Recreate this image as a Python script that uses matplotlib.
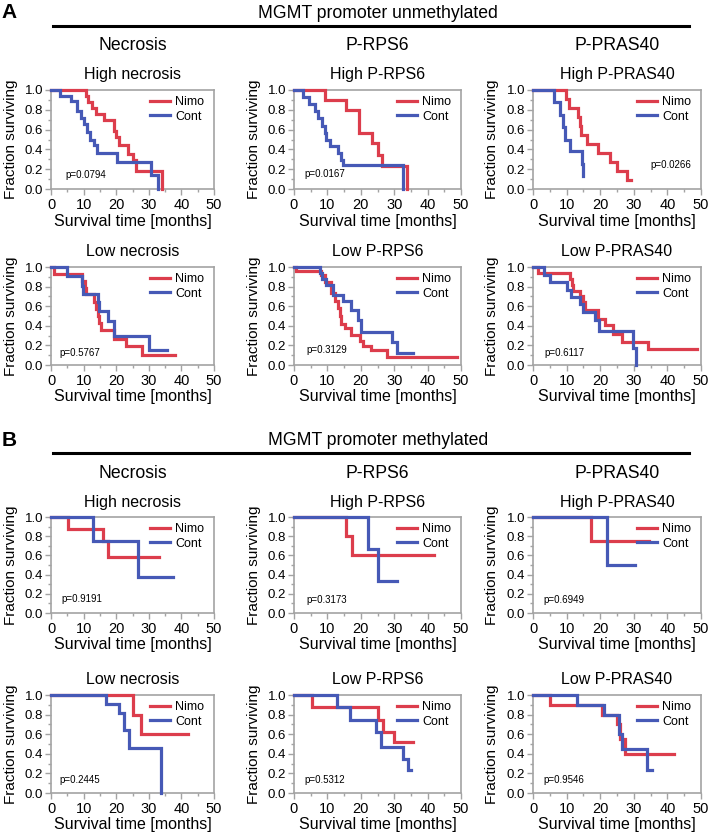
import matplotlib
matplotlib.use("Agg")
import matplotlib.pyplot as plt
from matplotlib.lines import Line2D
from matplotlib.ticker import MultipleLocator, FormatStrFormatter

plt.rcParams['font.family'] = ['Liberation Sans', 'DejaVu Sans']

# ---------------- DATA (times: event times + final follow-up time; surv: survival after each event)
# A: MGMT promoter unmethylated
a_hn_nimo_t = [10.6, 11.3, 12.6, 13.9, 16.3, 19.4, 19.8, 21.0, 23.5, 25.2, 26.2, 34.0, 34.0]
a_hn_nimo_s = [0.94, 0.88, 0.82, 0.76, 0.70, 0.59, 0.53, 0.44, 0.35, 0.29, 0.18, 0.0]
a_hn_cont_t = [2.8, 6.1, 7.9, 9.1, 10.1, 11.1, 12.1, 13.1, 14.1, 20.2, 30.8, 32.8, 32.8]
a_hn_cont_s = [0.94, 0.89, 0.79, 0.72, 0.66, 0.58, 0.50, 0.44, 0.36, 0.27, 0.14, 0.0]

a_hr_nimo_t = [9.4, 15.7, 19.4, 23.4, 25.2, 26.2, 33.7, 33.7]
a_hr_nimo_s = [0.90, 0.80, 0.57, 0.46, 0.34, 0.23, 0.0]
a_hr_cont_t = [2.7, 4.4, 6.2, 7.2, 8.4, 9.2, 9.7, 10.7, 13.2, 14.2, 14.7, 32.7, 32.7]
a_hr_cont_s = [0.93, 0.86, 0.79, 0.72, 0.64, 0.57, 0.50, 0.43, 0.36, 0.29, 0.24, 0.0]

a_hp_nimo_t = [9.8, 10.6, 13.4, 13.9, 14.4, 16.1, 19.4, 22.9, 25.1, 27.9, 29.3]
a_hp_nimo_s = [0.91, 0.82, 0.73, 0.64, 0.55, 0.45, 0.36, 0.27, 0.18, 0.09]
a_hp_cont_t = [6.2, 8.0, 8.8, 9.5, 11.0, 14.5, 14.9, 15.0]
a_hp_cont_s = [0.88, 0.75, 0.63, 0.50, 0.38, 0.25, 0.13]

a_ln_nimo_t = [0.9, 9.6, 10.3, 10.8, 13.3, 13.8, 14.3, 14.8, 15.4, 19.4, 22.9, 28.0, 38.1]
a_ln_nimo_s = [0.93, 0.86, 0.79, 0.72, 0.64, 0.57, 0.50, 0.43, 0.36, 0.27, 0.19, 0.10]
a_ln_cont_t = [5.0, 9.6, 9.8, 14.3, 14.8, 17.4, 19.4, 30.0, 35.6]
a_ln_cont_s = [0.91, 0.81, 0.72, 0.64, 0.55, 0.45, 0.30, 0.15]

a_lr_nimo_t = [0.7, 8.0, 9.2, 11.2, 12.2, 13.2, 13.7, 14.2, 15.2, 17.2, 19.7, 20.7, 23.2, 27.7, 48.7]
a_lr_nimo_s = [0.96, 0.92, 0.85, 0.73, 0.65, 0.58, 0.50, 0.42, 0.38, 0.31, 0.25, 0.19, 0.15, 0.08]
a_lr_cont_t = [7.7, 8.4, 9.7, 11.7, 14.7, 17.2, 19.2, 20.2, 29.2, 30.7, 35.7]
a_lr_cont_s = [0.94, 0.88, 0.82, 0.71, 0.65, 0.56, 0.46, 0.34, 0.23, 0.12]

a_lp_nimo_t = [1.6, 10.9, 11.5, 12.0, 14.0, 15.0, 15.5, 19.4, 21.4, 23.9, 26.4, 34.3, 48.7]
a_lp_nimo_s = [0.94, 0.88, 0.82, 0.76, 0.70, 0.64, 0.56, 0.47, 0.41, 0.32, 0.23, 0.16]
a_lp_cont_t = [3.4, 5.0, 10.0, 11.4, 14.0, 15.0, 18.5, 19.5, 29.8, 30.8, 30.8]
a_lp_cont_s = [0.92, 0.85, 0.77, 0.69, 0.62, 0.54, 0.46, 0.35, 0.17, 0.0]

# B: MGMT promoter methylated
b_hn_nimo_t = [5.2, 16.0, 17.6, 33.0]
b_hn_nimo_s = [0.875, 0.75, 0.58]
b_hn_cont_t = [12.8, 26.7, 37.4]
b_hn_cont_s = [0.75, 0.375]

b_hr_nimo_t = [15.6, 17.4, 41.9]
b_hr_nimo_s = [0.8, 0.6]
b_hr_cont_t = [22.2, 25.2, 30.8]
b_hr_cont_s = [0.67, 0.33]

b_hp_nimo_t = [17.3, 34.5]
b_hp_nimo_s = [0.75]
b_hp_cont_t = [22.0, 30.5]
b_hp_cont_s = [0.5]

b_ln_nimo_t = [25.3, 27.7, 42.0]
b_ln_nimo_s = [0.8, 0.6]
b_ln_cont_t = [16.8, 20.8, 22.5, 24.0, 33.6, 33.6]
b_ln_cont_s = [0.91, 0.82, 0.64, 0.46, 0.0]

b_lr_nimo_t = [5.4, 25.0, 26.5, 30.0, 35.5]
b_lr_nimo_s = [0.875, 0.75, 0.625, 0.52]
b_lr_cont_t = [12.9, 16.8, 24.5, 26.0, 32.5, 34.0, 35.0]
b_lr_cont_s = [0.875, 0.75, 0.625, 0.47, 0.35, 0.23]

b_lp_nimo_t = [5.0, 20.5, 25.0, 26.0, 27.5, 42.0]
b_lp_nimo_s = [0.9, 0.8, 0.7, 0.55, 0.4]
b_lp_cont_t = [13.0, 21.0, 25.5, 26.5, 34.0, 35.5]
b_lp_cont_s = [0.9, 0.8, 0.6, 0.45, 0.23]

subtitles = [["High necrosis", "High P-RPS6", "High P-PRAS40"],
             ["Low necrosis", "Low P-RPS6", "Low P-PRAS40"],
             ["High necrosis", "High P-RPS6", "High P-PRAS40"],
             ["Low necrosis", "Low P-RPS6", "Low P-PRAS40"]]
pvalues = [["p=0.0794", "p=0.0167", "p=0.0266"],
           ["p=0.5767", "p=0.3129", "p=0.6117"],
           ["p=0.9191", "p=0.3173", "p=0.6949"],
           ["p=0.2445", "p=0.5312", "p=0.9546"]]
col_headers = ["Necrosis", "P-RPS6", "P-PRAS40"]
section_titles = ["MGMT promoter unmethylated", "MGMT promoter methylated"]
section_letters = ["A", "B"]
series_labels = ["Nimo", "Cont"]

curves = [
    [(a_hn_nimo_t, a_hn_nimo_s, a_hn_cont_t, a_hn_cont_s),
     (a_hr_nimo_t, a_hr_nimo_s, a_hr_cont_t, a_hr_cont_s),
     (a_hp_nimo_t, a_hp_nimo_s, a_hp_cont_t, a_hp_cont_s)],
    [(a_ln_nimo_t, a_ln_nimo_s, a_ln_cont_t, a_ln_cont_s),
     (a_lr_nimo_t, a_lr_nimo_s, a_lr_cont_t, a_lr_cont_s),
     (a_lp_nimo_t, a_lp_nimo_s, a_lp_cont_t, a_lp_cont_s)],
    [(b_hn_nimo_t, b_hn_nimo_s, b_hn_cont_t, b_hn_cont_s),
     (b_hr_nimo_t, b_hr_nimo_s, b_hr_cont_t, b_hr_cont_s),
     (b_hp_nimo_t, b_hp_nimo_s, b_hp_cont_t, b_hp_cont_s)],
    [(b_ln_nimo_t, b_ln_nimo_s, b_ln_cont_t, b_ln_cont_s),
     (b_lr_nimo_t, b_lr_nimo_s, b_lr_cont_t, b_lr_cont_s),
     (b_lp_nimo_t, b_lp_nimo_s, b_lp_cont_t, b_lp_cont_s)],
]

# ---------------- LAYOUT / STYLE
W, H = 709, 835
RED = "#dc3d4c"
BLUE = "#4659b6"
FRAME = "#a3a3a3"
col_px = [(51, 214), (294, 461), (533, 701)]
row_px = [(90, 189), (267, 365), (517, 613), (695, 793)]
pval_pos = [[(4.3, 0.14), (3.2, 0.15), (34.9, 0.24)],
            [(2.5, 0.125), (3.7, 0.15), (3.3, 0.12)],
            [(3.1, 0.15), (3.6, 0.14), (3.0, 0.14)],
            [(2.5, 0.13), (3.0, 0.13), (3.0, 0.13)]]

fig = plt.figure(figsize=(W / 100, H / 100), dpi=100)


def fy(y):
    return 1 - y / H


def fx(x):
    return x / W


def km(ax, times, surv, color, label):
    t = [0.0] + list(times)
    s = [1.0] + list(surv) + [surv[-1]]
    ax.step(t, s, where="post", color=color, lw=2.3, label=label,
            clip_on=False, zorder=3, solid_joinstyle="miter")


for r, (y0, y1) in enumerate(row_px):
    for c, (x0, x1) in enumerate(col_px):
        ax = fig.add_axes([fx(x0), fy(y1), (x1 - x0) / W, (y1 - y0) / H])
        nt, ns, ct, cs = curves[r][c]
        km(ax, nt, ns, RED, series_labels[0])
        km(ax, ct, cs, BLUE, series_labels[1])
        ax.set_xlim(0, 50)
        ax.set_ylim(0, 1.0)
        ax.xaxis.set_major_locator(MultipleLocator(10))
        ax.xaxis.set_minor_locator(MultipleLocator(5))
        ax.yaxis.set_major_locator(MultipleLocator(0.2))
        ax.yaxis.set_minor_locator(MultipleLocator(0.1))
        ax.yaxis.set_major_formatter(FormatStrFormatter("%.1f"))
        for sp in ax.spines.values():
            sp.set_color(FRAME)
            sp.set_linewidth(1.2)
        ax.tick_params(axis="both", which="major", length=4, width=1, color=FRAME)
        ax.tick_params(axis="both", which="minor", length=2.5, width=1, color=FRAME)
        ax.tick_params(axis="y", which="major", labelsize=9.5, pad=1.5)
        ax.tick_params(axis="x", which="major", labelsize=10.5, pad=2.5)
        ax.set_ylabel("Fraction surviving", fontsize=11)
        ax.yaxis.set_label_coords(-0.2, 0.5)
        ax.set_xlabel("Survival time [months]", fontsize=11.5)
        ax.xaxis.set_label_coords(0.5, -0.25)
        px, py = pval_pos[r][c]
        ax.text(px, py, pvalues[r][c], fontsize=7, ha="left", va="center")
        ax.legend(loc="upper right", bbox_to_anchor=(1.0, 1.04), frameon=False,
                  fontsize=9, handlelength=1.6, handletextpad=0.4,
                  labelspacing=0.2, borderaxespad=0.4)
        fig.text(fx((x0 + x1) / 2), fy(y0 - 15), subtitles[r][c],
                 fontsize=11.5, ha="center", va="center")

# section headers
for k, top in enumerate([90, 517]):
    fig.text(fx(9), fy(top - 77), section_letters[k], fontsize=15,
             fontweight="bold", ha="center", va="center")
    fig.text(fx(378), fy(top - 77), section_titles[k], fontsize=12.7,
             ha="center", va="center")
    fig.add_artist(Line2D([fx(53), fx(689)], [fy(top - 64), fy(top - 64)],
                          color="black", lw=2.2, transform=fig.transFigure))
    for c, (x0, x1) in enumerate(col_px):
        fig.text(fx((x0 + x1) / 2), fy(top - 44), col_headers[c],
                 fontsize=12.7, ha="center", va="center")

fig.savefig("out.png", dpi=100)
